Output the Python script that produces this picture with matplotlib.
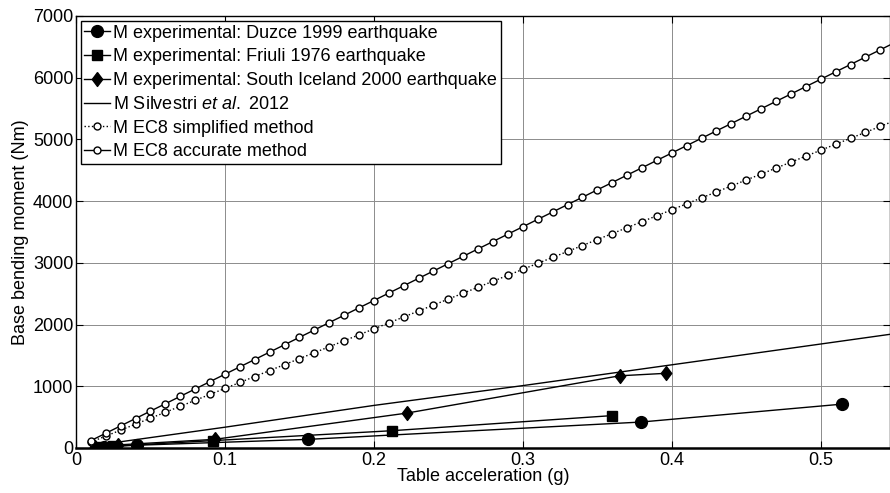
"""Base bending moment vs table acceleration: experiments vs Silvestri et al. and EC8."""

import matplotlib

matplotlib.use("Agg")
import matplotlib.pyplot as plt

# EC8 curves, sampled every 0.01 g
acc_ec8 = [0.01, 0.02, 0.03, 0.04, 0.05, 0.06, 0.07, 0.08, 0.09, 0.10,
           0.11, 0.12, 0.13, 0.14, 0.15, 0.16, 0.17, 0.18, 0.19, 0.20,
           0.21, 0.22, 0.23, 0.24, 0.25, 0.26, 0.27, 0.28, 0.29, 0.30,
           0.31, 0.32, 0.33, 0.34, 0.35, 0.36, 0.37, 0.38, 0.39, 0.40,
           0.41, 0.42, 0.43, 0.44, 0.45, 0.46, 0.47, 0.48, 0.49, 0.50,
           0.51, 0.52, 0.53, 0.54, 0.55]
m_ec8_accurate = [120, 239, 359, 478, 598, 717, 837, 956, 1076, 1195,
                  1315, 1434, 1554, 1673, 1793, 1912, 2032, 2151, 2271, 2390,
                  2510, 2629, 2749, 2868, 2988, 3107, 3227, 3346, 3466, 3585,
                  3705, 3824, 3944, 4063, 4183, 4302, 4422, 4541, 4661, 4780,
                  4900, 5019, 5139, 5258, 5378, 5497, 5617, 5736, 5856, 5975,
                  6095, 6214, 6334, 6453, 6573]
m_ec8_simplified = [97, 193, 290, 386, 483, 579, 676, 772, 869, 965,
                    1062, 1158, 1255, 1351, 1448, 1544, 1641, 1737, 1834, 1930,
                    2027, 2123, 2220, 2316, 2413, 2509, 2606, 2702, 2799, 2895,
                    2992, 3088, 3185, 3281, 3378, 3474, 3571, 3667, 3764, 3860,
                    3957, 4053, 4150, 4246, 4343, 4439, 4536, 4632, 4729, 4825,
                    4922, 5018, 5115, 5211, 5308]

# Silvestri et al. 2012
acc_silv = [0.01, 0.10, 0.20, 0.30, 0.40, 0.50, 0.55]
m_silv = [34, 337, 690, 1011, 1348, 1685, 1854]

# experimental points
acc_duzce = [0.019, 0.041, 0.156, 0.379, 0.514]
m_duzce = [20, 45, 140, 420, 710]
acc_friuli = [0.014, 0.025, 0.092, 0.212, 0.360]
m_friuli = [15, 30, 120, 280, 525]
acc_iceland = [0.013, 0.028, 0.093, 0.222, 0.365, 0.396]
m_iceland = [20, 50, 140, 565, 1170, 1210]

plt.rcParams["font.family"] = ["Liberation Sans", "DejaVu Sans"]
plt.rcParams["font.size"] = 13
plt.rcParams["mathtext.fontset"] = "custom"
plt.rcParams["mathtext.rm"] = "Liberation Sans"
plt.rcParams["mathtext.it"] = "Liberation Sans:italic"

# MATLAB-like diamond, taller than wide
diamond = [(0, 1), (0.75, 0), (0, -1), (-0.75, 0), (0, 1)]

fig = plt.figure(figsize=(8.9, 4.93), dpi=100)
ax = fig.add_axes([76 / 890, 1 - 448 / 493, 1 - 76 / 890, (448 - 16) / 493])

ax.plot(acc_duzce, m_duzce, "k-", marker="o", ms=8.5, lw=1,
        label="M experimental: Duzce 1999 earthquake")
ax.plot(acc_friuli, m_friuli, "k-", marker="s", ms=7, lw=1,
        label="M experimental: Friuli 1976 earthquake")
ax.plot(acc_iceland, m_iceland, "k-", marker=diamond, ms=10, lw=1,
        label="M experimental: South Iceland 2000 earthquake")
ax.plot(acc_silv, m_silv, "k-", lw=1,
        label="M Silvestri $\\mathit{et\\ al.}\\ \\mathrm{2012}$")
ax.plot(acc_ec8, m_ec8_simplified, "k:", marker="o", ms=5, mfc="white",
        mew=1, lw=1, label="M EC8 simplified method")
ax.plot(acc_ec8, m_ec8_accurate, "k-", marker="o", ms=5, mfc="white",
        mew=1, lw=1, label="M EC8 accurate method")

ax.set_xlim(0, 0.5465)
ax.set_ylim(0, 7000)
ax.set_xticks([0, 0.1, 0.2, 0.3, 0.4, 0.5])
ax.set_xticklabels(["0", "0.1", "0.2", "0.3", "0.4", "0.5"])
ax.set_yticks(range(0, 7001, 1000))
ax.tick_params(direction="in", top=True, right=True, length=5, width=0.8,
               pad=2, labelsize=13)
ax.tick_params(axis="x", pad=3)
ax.grid(True, color="#8c8c8c", lw=0.7)
for s in ax.spines.values():
    s.set_linewidth(1.0)
ax.spines["bottom"].set_linewidth(1.8)

ax.set_xlabel("Table acceleration (g)", labelpad=-1)
ax.set_ylabel("Base bending moment (Nm)", labelpad=3)

leg = ax.legend(loc="upper left", bbox_to_anchor=(0.006, 0.988), fancybox=False,
                framealpha=1, edgecolor="black", handlelength=1.4,
                handletextpad=0.2, labelspacing=0.37, borderpad=0.2,
                borderaxespad=0)
leg.get_frame().set_linewidth(1.0)

fig.savefig("out.png", dpi=100)
